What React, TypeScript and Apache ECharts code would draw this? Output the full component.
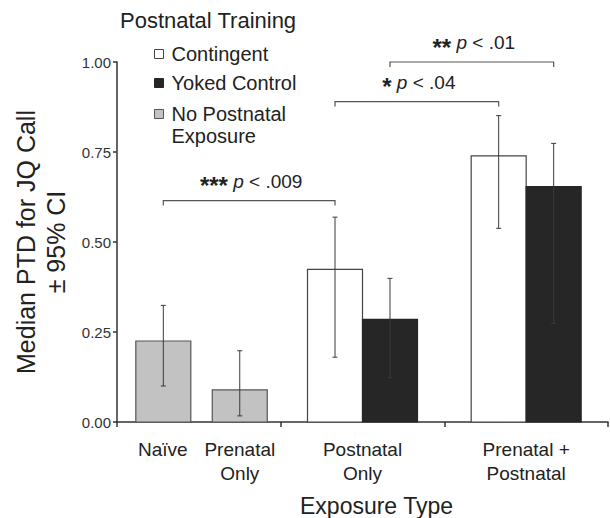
import React, { useEffect, useRef } from "react";
import * as echarts from "echarts";

// ---- data ----
const exposureGroups = ["Naïve / Prenatal Only", "Postnatal Only", "Prenatal + Postnatal"];
const yTickValues = [0, 0.25, 0.5, 0.75, 1.0];

// No postnatal exposure (gray bars): Naïve, Prenatal Only  (both in group 0)
const noPostnatalGroup = [0, 0];
const noPostnatalMedian = [0.225, 0.089];
const noPostnatalLow = [0.1, 0.017];
const noPostnatalHigh = [0.324, 0.198];

// Contingent (white bars): Postnatal Only, Prenatal + Postnatal
const contingentGroup = [1, 2];
const contingentMedian = [0.424, 0.739];
const contingentLow = [0.18, 0.538];
const contingentHigh = [0.569, 0.851];

// Yoked control (black bars)
const yokedGroup = [1, 2];
const yokedMedian = [0.285, 0.654];
const yokedLow = [0.123, 0.274];
const yokedHigh = [0.399, 0.774];

// significance brackets
const bracketStars = ["***", "*", "**"];
const bracketP = ["< .009", "< .04", "< .01"];
const bracketY = [0.615, 0.89, 1.0];
const bracketFrom: [string, number][] = [["gray", 0], ["contingent", 0], ["yoked", 0]];
const bracketTo: [string, number][] = [["contingent", 0], ["contingent", 1], ["yoked", 1]];

// ---- layout / style ----
const FONT = "Liberation Sans, Arial, Helvetica, sans-serif";
const TXT = "#222";
const BAR_FRAC = 0.336;
const OFFSETS: Record<string, number[]> = {
  gray: [-0.217, 0.25],
  contingent: [-0.168, -0.168],
  yoked: [0.168, 0.168],
};
const GROUPS: Record<string, number[]> = {
  gray: noPostnatalGroup,
  contingent: contingentGroup,
  yoked: yokedGroup,
};

function barSeries(
  key: string,
  name: string,
  groups: number[],
  med: number[],
  low: number[],
  high: number[],
  fill: string,
  stroke: string
) {
  return {
    type: "custom",
    name,
    coordinateSystem: "cartesian2d",
    clip: false,
    itemStyle: { color: fill, borderColor: stroke },
    data: med.map((m, i) => [groups[i], m, low[i], high[i]]),
    encode: { x: 0, y: [1, 2, 3] },
    renderItem: (params: any, api: any) => {
      const cat = api.value(0);
      const m = api.value(1);
      const lo = api.value(2);
      const hi = api.value(3);
      const band = api.size([1, 0])[0];
      const base = api.coord([cat, 0]);
      const cx = base[0] + OFFSETS[key][params.dataIndex] * band;
      const w = BAR_FRAC * band;
      const top = api.coord([cat, m])[1];
      const yLo = api.coord([cat, lo])[1];
      const yHi = api.coord([cat, hi])[1];
      const cap = 2.5;
      const eb = { stroke: "#3a3a3a", lineWidth: 1 };
      return {
        type: "group",
        children: [
          {
            type: "rect",
            shape: { x: cx - w / 2, y: top, width: w, height: base[1] - top },
            style: { fill, stroke, lineWidth: 1.2 },
          },
          { type: "line", shape: { x1: cx, y1: yLo, x2: cx, y2: yHi }, style: eb },
          { type: "line", shape: { x1: cx - cap, y1: yLo, x2: cx + cap, y2: yLo }, style: eb },
          { type: "line", shape: { x1: cx - cap, y1: yHi, x2: cx + cap, y2: yHi }, style: eb },
        ],
      };
    },
  };
}

function barX(api: any, ref: [string, number]) {
  const [key, idx] = ref;
  const cat = GROUPS[key][idx];
  const band = api.size([1, 0])[0];
  return api.coord([cat, 0])[0] + OFFSETS[key][idx] * band;
}

export default function App() {
  const ref = useRef<HTMLDivElement>(null);
  useEffect(() => {
    if (!ref.current) return;
    const chart = echarts.init(ref.current, null, { renderer: "svg" });
    const option: any = {
      animation: false,
      textStyle: { fontFamily: FONT, color: TXT },
      title: {
        text: "Postnatal Training",
        left: 120,
        top: 9,
        padding: 0,
        textStyle: { fontFamily: FONT, fontSize: 22, fontWeight: "normal", color: TXT },
      },
      legend: [
        {
          orient: "vertical",
          left: 154,
          top: 42,
          padding: 0,
          itemGap: 5,
          itemWidth: 9,
          itemHeight: 9,
          icon: "rect",
          selectedMode: false,
          textStyle: { fontFamily: FONT, fontSize: 20, color: TXT, lineHeight: 24, padding: [0, 0, 0, 3] },
          data: [
            { name: "Contingent", itemStyle: { color: "#ffffff", borderColor: "#444", borderWidth: 1 } },
            { name: "Yoked Control", itemStyle: { color: "#262626", borderColor: "#262626", borderWidth: 1 } },
          ],
        },
        {
          orient: "vertical",
          left: 154,
          top: 104,
          padding: 0,
          itemWidth: 9,
          itemHeight: 9,
          icon: "rect",
          selectedMode: false,
          formatter: () => "{a|No Postnatal}\n{b|Exposure}",
          textStyle: {
            fontFamily: FONT,
            fontSize: 20,
            color: TXT,
            rich: {
              a: { fontFamily: FONT, fontSize: 20, color: TXT, padding: [23, 0, 0, 3] },
              b: { fontFamily: FONT, fontSize: 20, color: TXT, lineHeight: 23, padding: [0, 0, 0, 3] },
            },
          },
          data: [
            { name: "No Postnatal Exposure", itemStyle: { color: "#c2c2c2", borderColor: "#555", borderWidth: 1 } },
          ],
        },
      ],
      grid: { left: 117, right: 2, top: 62, bottom: 96, containLabel: false, outerBoundsMode: "none" },
      xAxis: {
        type: "category",
        data: exposureGroups,
        boundaryGap: true,
        axisLine: { lineStyle: { color: "#333", width: 1.5 } },
        axisTick: { show: true, length: 5, lineStyle: { color: "#333", width: 1.5 } },
        axisLabel: {
          interval: 0,
          margin: 15,
          color: TXT,
          fontFamily: FONT,
          fontSize: 19,
          lineHeight: 24,
          formatter: (v: string, i: number) => {
            if (i === 0) return "{n|Naïve}{p|Prenatal}\n{n| }{p|Only}";
            if (i === 1) return "{c|Postnatal}\n{c|Only}";
            return "{c|Prenatal +}\n{c|Postnatal}";
          },
          rich: {
            n: { width: 82, align: "center", fontSize: 19, lineHeight: 24, fontFamily: FONT, color: TXT },
            p: { width: 72, align: "center", fontSize: 19, lineHeight: 24, fontFamily: FONT, color: TXT },
            c: { align: "center", fontSize: 19, lineHeight: 24, fontFamily: FONT, color: TXT },
          },
        },
        name: "Exposure Type",
        nameLocation: "middle",
        nameGap: 72,
        nameTextStyle: { fontFamily: FONT, fontSize: 23, color: TXT, padding: [0, 0, 0, 28] },
      },
      yAxis: {
        type: "value",
        min: yTickValues[0],
        max: yTickValues[yTickValues.length - 1],
        interval: 0.25,
        splitLine: { show: false },
        axisLine: { show: true, lineStyle: { color: "#333", width: 1.5 } },
        axisTick: { show: true, length: 4, lineStyle: { color: "#333", width: 1.5 } },
        axisLabel: {
          margin: 6,
          color: "#333",
          fontFamily: FONT,
          fontSize: 15,
          formatter: (v: number) => v.toFixed(2),
        },
        name: "Median PTD for JQ Call\n± 95% CI",
        nameLocation: "middle",
        nameGap: 42,
        nameTextStyle: { fontFamily: FONT, fontSize: 25, lineHeight: 30, color: TXT },
      },
      series: [
        barSeries("gray", "No Postnatal Exposure", noPostnatalGroup, noPostnatalMedian, noPostnatalLow, noPostnatalHigh, "#c2c2c2", "#555"),
        barSeries("contingent", "Contingent", contingentGroup, contingentMedian, contingentLow, contingentHigh, "#ffffff", "#444"),
        barSeries("yoked", "Yoked Control", yokedGroup, yokedMedian, yokedLow, yokedHigh, "#262626", "#262626"),
        {
          type: "custom",
          name: "brackets",
          coordinateSystem: "cartesian2d",
          clip: false,
          silent: true,
          data: bracketY.map((y, i) => [i, y]),
          encode: { y: 1 },
          renderItem: (params: any, api: any) => {
            const i = params.dataIndex;
            const y = api.coord([0, bracketY[i]])[1];
            const x1 = barX(api, bracketFrom[i]);
            const x2 = barX(api, bracketTo[i]);
            const ls = { stroke: "#555", lineWidth: 1.2, fill: "none" };
            return {
              type: "group",
              children: [
                {
                  type: "polyline",
                  shape: { points: [[x1, y + 5], [x1, y], [x2, y], [x2, y + 5]] },
                  style: ls,
                },
                {
                  type: "text",
                  style: {
                    x: (x1 + x2) / 2 + 2,
                    y: y - 3,
                    align: "center",
                    verticalAlign: "bottom",
                    text: `{s|${bracketStars[i]}}{g| }{i|p}{t| ${bracketP[i]}}`,
                    rich: {
                      s: { fontFamily: FONT, fontSize: 24, fontWeight: "bold", fill: TXT, padding: [9, 0, 0, 0] },
                      g: { fontFamily: FONT, fontSize: 19, fill: TXT },
                      i: { fontFamily: FONT, fontSize: 19, fontStyle: "italic", fill: TXT },
                      t: { fontFamily: FONT, fontSize: 19, fill: TXT },
                    },
                  },
                },
              ],
            };
          },
        },
      ],
    };
    chart.setOption(option);
    return () => chart.dispose();
  }, []);
  return (
    <div
      ref={ref}
      style={{ position: "fixed", left: 0, top: 0, width: 610, height: 518, background: "#fff" }}
    />
  );
}
